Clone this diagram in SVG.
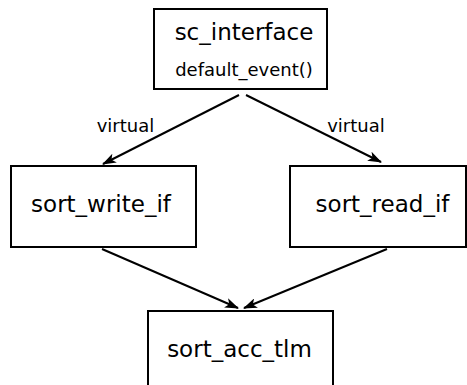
<svg xmlns="http://www.w3.org/2000/svg" width="467" height="385" viewBox="0 0 467 385">
  <style>
    .box { fill: #ffffff; stroke: #000000; stroke-width: 2; }
    .edge { fill: none; stroke: #000000; stroke-width: 2; marker-end: url(#arrow); }
    text { font-family: "DejaVu Sans", sans-serif; fill: #000000; text-anchor: middle; }
    .name { font-size: 23px; }
    .member { font-size: 18px; }
    .label { font-size: 18px; }
  </style>
  <defs>
    <marker id="arrow" viewBox="0 0 14 10" refX="13" refY="5" markerWidth="14" markerHeight="10" markerUnits="userSpaceOnUse" orient="auto">
      <path d="M0,0 L14,5 L0,10 L3.5,5 Z" fill="#000000"/>
    </marker>
  </defs>
  <rect width="467" height="385" fill="#ffffff"/>

  <g id="connectors">
    <line class="edge" x1="239" y1="95" x2="103" y2="164"/>
    <line class="edge" x1="246" y1="95" x2="381" y2="162"/>
    <line class="edge" x1="102" y1="249" x2="238" y2="308"/>
    <line class="edge" x1="387" y1="249" x2="244" y2="308"/>
    <text class="label" x="125.5" y="132">virtual</text>
    <text class="label" x="356" y="132">virtual</text>
  </g>

  <g id="sc_interface">
    <rect class="box" x="154" y="9" width="173" height="80"/>
    <text class="name" x="244" y="40">sc_interface</text>
    <text class="member" x="244" y="76">default_event()</text>
  </g>

  <g id="sort_write_if">
    <rect class="box" x="11" y="166" width="185" height="81"/>
    <text class="name" x="101" y="212">sort_write_if</text>
  </g>

  <g id="sort_read_if">
    <rect class="box" x="290" y="166" width="176" height="81"/>
    <text class="name" x="382.5" y="212">sort_read_if</text>
  </g>

  <g id="sort_acc_tlm">
    <rect class="box" x="148" y="311" width="185" height="80"/>
    <text class="name" x="239.5" y="357">sort_acc_tlm</text>
  </g>
</svg>
